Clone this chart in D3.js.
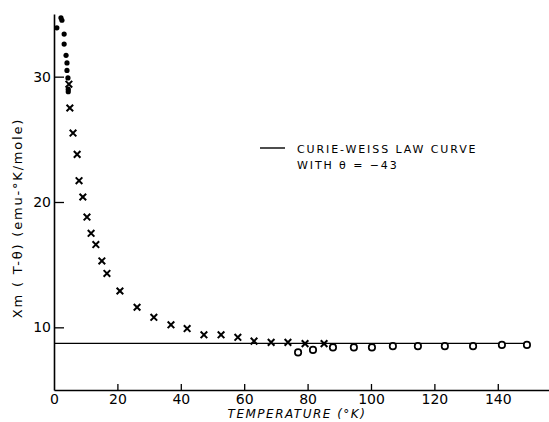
<!DOCTYPE html>
<html>
<head>
<meta charset="utf-8">
<script src="https://cdn.jsdelivr.net/npm/d3@7"></script>
<style>
  html, body { margin: 0; padding: 0; background: #fff; }
  svg text { font-family: "DejaVu Sans", sans-serif; fill: #000; }
</style>
</head>
<body>
<svg id="chart" width="549" height="422"></svg>
<script>
// filled dots (lowest temperatures)
const dotsT = [2.2, 2.5, 0.9, 3.2, 3.2, 3.8, 4.1, 4.1, 4.4, 4.5, 4.5];
const dotsV = [34.7, 34.5, 33.9, 33.4, 32.6, 31.7, 31.1, 30.5, 29.9, 29.0, 28.8];

// crosses
const crossT = [4.7, 5.0, 6.0, 7.3, 7.9, 9.1, 10.4, 11.7, 13.2, 15.1, 16.7, 20.8, 26.2,
  31.5, 36.9, 42.0, 47.3, 52.7, 58.0, 63.1, 68.5, 73.8, 79.2, 85.2];
const crossV = [29.4, 27.5, 25.5, 23.8, 21.7, 20.4, 18.8, 17.5, 16.6, 15.3, 14.3, 12.9, 11.6,
  10.8, 10.2, 9.9, 9.4, 9.4, 9.2, 8.9, 8.8, 8.8, 8.7, 8.7];

// open circles
const circT = [77.0, 81.7, 88.0, 94.6, 100.3, 106.9, 114.8, 123.3, 132.2, 141.3, 149.2];
const circV = [8.0, 8.2, 8.4, 8.4, 8.4, 8.5, 8.5, 8.5, 8.5, 8.6, 8.6];

// Curie-Weiss constant
const curieT = [0, 149.2];
const curieV = [8.72, 8.72];

const xTicks = [0, 20, 40, 60, 80, 100, 120, 140];
const yTicks = [10, 20, 30];

const svg = d3.select('#chart');
const x = d3.scaleLinear().domain([0, 156]).range([54, 548.5]);
const y = d3.scaleLinear().domain([5, 35]).range([390, 14]);

// axes
const xAxis = d3.axisBottom(x).tickValues(xTicks).tickSizeInner(-6).tickSizeOuter(0).tickPadding(4);
const yAxis = d3.axisLeft(y).tickValues(yTicks).tickSizeInner(-10).tickSizeOuter(0).tickPadding(3);

const gx = svg.append('g').attr('transform', `translate(0, ${y(5)})`).call(xAxis);
const gy = svg.append('g').attr('transform', `translate(${x(0)}, 0)`).call(yAxis);

[gx, gy].forEach((g) => {
  g.select('.domain').attr('stroke', '#000').attr('stroke-width', 1.6);
  g.selectAll('.tick line').attr('stroke', '#000').attr('stroke-width', 1.3);
  g.selectAll('.tick text')
    .style('font-family', '"DejaVu Sans", sans-serif')
    .style('font-size', '14px')
    .attr('fill', '#000');
});
gx.select('.tick line').remove();

svg.append('text')
  .attr('x', 297).attr('y', 418)
  .attr('text-anchor', 'middle')
  .style('font-size', '12px')
  .style('font-style', 'italic')
  .style('letter-spacing', '1.5px')
  .text('TEMPERATURE (°K)');

svg.append('text')
  .attr('transform', 'translate(22, 218) rotate(-90)')
  .attr('text-anchor', 'middle')
  .style('font-size', '13px')
  .style('letter-spacing', '1.8px')
  .text('Xm ( T-θ)  (emu-°K/mole)');

// Curie-Weiss line
const line = d3.line().x((d, i) => x(curieT[i])).y((d, i) => y(curieV[i]));
svg.append('path')
  .attr('d', line(curieT))
  .attr('fill', 'none')
  .attr('stroke', '#000')
  .attr('stroke-width', 1.4);

// markers
svg.append('g').selectAll('circle.dot')
  .data(dotsT)
  .join('circle')
  .attr('class', 'dot')
  .attr('cx', (d) => x(d))
  .attr('cy', (d, i) => y(dotsV[i]))
  .attr('r', 2.6)
  .attr('fill', '#000');

const cs = 3.3;
svg.append('g').selectAll('path.cross')
  .data(crossT)
  .join('path')
  .attr('class', 'cross')
  .attr('d', (d, i) => {
    const cx = x(d), cy = y(crossV[i]);
    return `M${cx - cs},${cy - cs}L${cx + cs},${cy + cs}M${cx + cs},${cy - cs}L${cx - cs},${cy + cs}`;
  })
  .attr('stroke', '#000')
  .attr('stroke-width', 2);

svg.append('g').selectAll('circle.open')
  .data(circT)
  .join('circle')
  .attr('class', 'open')
  .attr('cx', (d) => x(d))
  .attr('cy', (d, i) => y(circV[i]))
  .attr('r', 3.2)
  .attr('fill', '#fff')
  .attr('stroke', '#000')
  .attr('stroke-width', 1.7);

// legend
svg.append('line')
  .attr('x1', 260).attr('x2', 285)
  .attr('y1', 148).attr('y2', 148)
  .attr('stroke', '#000').attr('stroke-width', 1.4);

const legend = svg.append('text')
  .style('font-size', '11px')
  .style('letter-spacing', '1.9px');
legend.append('tspan').attr('x', 297).attr('y', 153).text('CURIE-WEISS LAW CURVE');
legend.append('tspan').attr('x', 297).attr('y', 169).text('WITH θ = −43');
</script>
</body>
</html>
